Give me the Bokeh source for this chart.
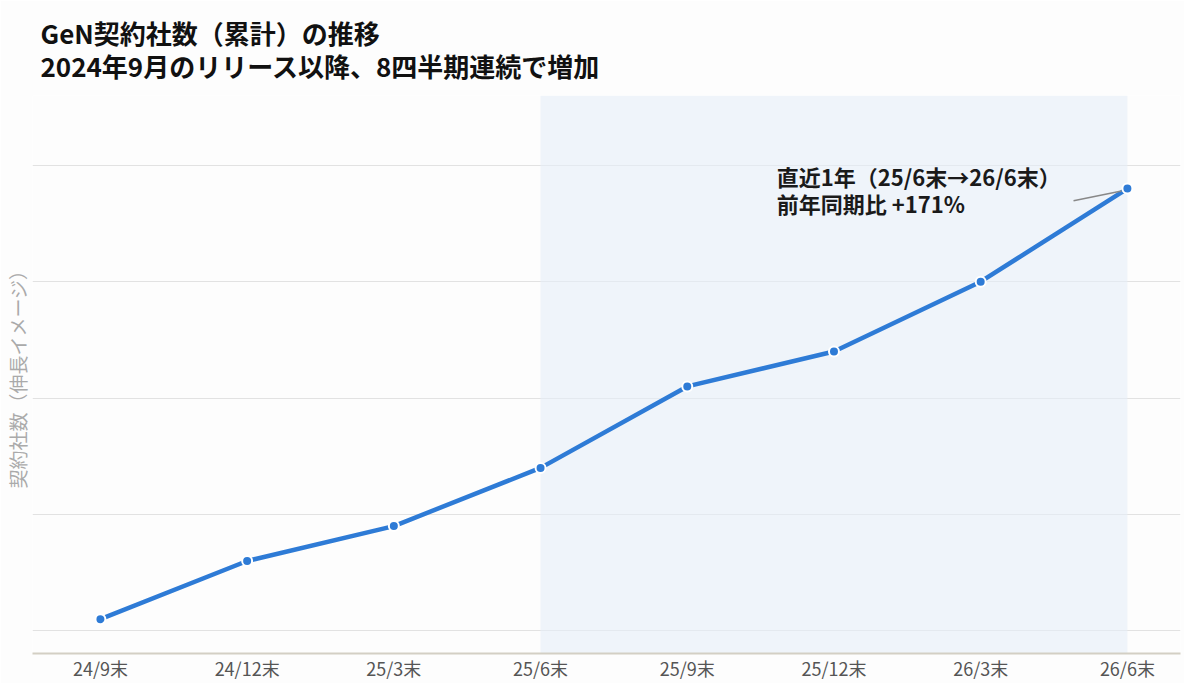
from bokeh.plotting import figure
from bokeh.models import Range1d, FixedTicker, Title, Label, BoxAnnotation
from bokeh.embed import file_html
from bokeh.resources import INLINE

categories = ["24/9末", "24/12末", "25/3末", "25/6末", "25/9末", "25/12末", "26/3末", "26/6末"]
contracts = [2, 12, 18, 28, 42, 48, 60, 76]
grid_values = [0, 20, 40, 60, 80]
title_line1 = "GeN契約社数（累計）の推移"
title_line2 = "2024年9月のリリース以降、8四半期連続で増加"
note_lines = ["直近1年（25/6末→26/6末）", "前年同期比 +171%"]
highlight_start = "25/6末"
highlight_end = "26/6末"

FONT = "Noto Sans CJK JP"
xs = list(range(len(categories)))

p = figure(width=1184, height=683, output_backend="svg", toolbar_location=None,
           x_range=Range1d(-0.463, 7.362), y_range=Range1d(-3.9, 92),
           background_fill_color="#fdfdfd", border_fill_color="#fdfdfd",
           min_border_left=30, min_border_right=4, min_border_top=94, min_border_bottom=25)
p.outline_line_color = None

p.add_layout(Title(text=title_line1 + "\n" + title_line2, text_font=FONT, text_font_size="26px",
                   text_font_style="bold", text_color="#111111", align="left",
                   text_line_height=0.9, offset=8, standoff=23), "above")
p.title.visible = False

band = BoxAnnotation(left=categories.index(highlight_start), right=categories.index(highlight_end),
                     fill_color="#e6eef8", fill_alpha=0.6, line_color=None, level="underlay")
p.add_layout(band)

p.line(xs, contracts, line_color="#2e7bd6", line_width=4.5)
p.scatter(xs, contracts, size=10, fill_color="#2e7bd6", line_color="white", line_width=2)

# annotation
lx = 4.61
p.add_layout(Label(x=lx, y=78.1, text=note_lines[0], text_font=FONT, text_font_size="22px",
                   text_font_style="bold", text_color="#1a1a1a", text_baseline="middle"))
p.add_layout(Label(x=lx, y=73.5, text=note_lines[1], text_font=FONT, text_font_size="22px",
                   text_font_style="bold", text_color="#1a1a1a", text_baseline="middle"))
last_x = xs[-1]
last_y = contracts[-1]
p.segment(x0=[last_x - 0.367], y0=[last_y - 2.1], x1=[last_x - 0.04], y1=[last_y - 0.4],
          line_color="#888888", line_width=1.5)

# axes
p.xaxis.ticker = FixedTicker(ticks=xs)
p.xaxis.major_label_overrides = {i: c for i, c in enumerate(categories)}
p.xaxis.major_label_text_font = FONT
p.xaxis.major_label_text_font_size = "18px"
p.xaxis.major_label_text_color = "#555555"
p.xaxis.major_tick_line_color = None
p.xaxis.minor_tick_line_color = None
p.xaxis.major_tick_out = 0
p.xaxis.major_tick_in = 0
p.xaxis.axis_line_color = "#d3cfc4"
p.xaxis.axis_line_width = 2
p.xaxis.major_label_standoff = 1
p.xgrid.grid_line_color = None

p.yaxis.ticker = FixedTicker(ticks=grid_values)
p.yaxis.major_label_text_font_size = "0px"
p.yaxis.major_label_text_color = None
p.yaxis.major_tick_line_color = None
p.yaxis.minor_tick_line_color = None
p.yaxis.major_tick_out = 0
p.yaxis.axis_line_color = None
p.yaxis.major_label_standoff = 0
p.yaxis.axis_label = "契約社数（伸長イメージ）"
p.yaxis.axis_label_text_font = FONT
p.yaxis.axis_label_text_font_size = "19px"
p.yaxis.axis_label_text_font_style = "normal"
p.yaxis.axis_label_text_color = "#aaaaaa"
p.yaxis.axis_label_standoff = 2
p.ygrid.grid_line_color = "#e2e2e2"
p.ygrid.grid_line_width = 1.2

open("out.html", "w").write(file_html(p, INLINE))
